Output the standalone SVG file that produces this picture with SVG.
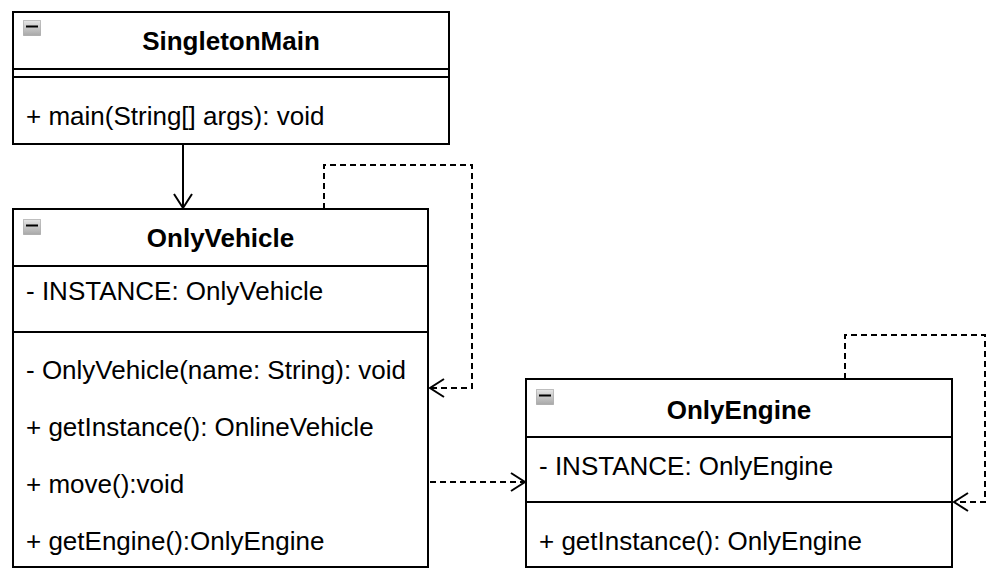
<svg xmlns="http://www.w3.org/2000/svg" width="1001" height="578" viewBox="0 0 1001 578">
<defs>
<style>
.box{fill:#fff;stroke:#000;stroke-width:2}
.div{stroke:#000;stroke-width:2}
.title{font-family:"Liberation Sans",Arial,sans-serif;font-size:26px;font-weight:bold;text-anchor:middle;fill:#000}
.txt{font-family:"Liberation Sans",Arial,sans-serif;font-size:26px;fill:#000}
.icon{fill:url(#ig);stroke:#8a8a8a;stroke-width:1;stroke-dasharray:1 1}
.minus{stroke:#000;stroke-width:2}
.dash{fill:none;stroke:#000;stroke-width:2;stroke-dasharray:6 4}
.solid{fill:none;stroke:#000;stroke-width:2}
</style>
<linearGradient id="ig" x1="0" y1="0" x2="0" y2="1">
<stop offset="0" stop-color="#e6e6e6"/>
<stop offset="1" stop-color="#a8a8a8"/>
</linearGradient>
<marker id="open" markerWidth="20" markerHeight="22" refX="15" refY="10" orient="auto" markerUnits="userSpaceOnUse">
<path d="M1,1 L15,10 L1,19" fill="none" stroke="#000" stroke-width="2"/>
</marker>
</defs>
<rect width="1001" height="578" fill="#fff"/>

<g id="connectors">
<path class="solid" d="M183,144 V208" marker-end="url(#open)"/>
<path class="dash" d="M324,209 V165 H472 V388 H430" marker-end="url(#open)"/>
<path class="dash" d="M430,482 H525" marker-end="url(#open)"/>
<path class="dash" d="M845,379 V335 H985 V502 H954" marker-end="url(#open)"/>
</g>

<g id="SingletonMain">
<rect class="box" x="13" y="12" width="436" height="132"/>
<line class="div" x1="13" y1="69" x2="449" y2="69"/>
<line class="div" x1="13" y1="77" x2="449" y2="77"/>
<rect class="icon" x="23.5" y="20.5" width="17" height="15"/>
<line class="minus" x1="26" y1="26.5" x2="38" y2="26.5"/>
<text class="title" x="231" y="50">SingletonMain</text>
<text class="txt" x="26" y="125">+ main(String[] args): void</text>
</g>

<g id="OnlyVehicle">
<rect class="box" x="13" y="209" width="415" height="358"/>
<line class="div" x1="13" y1="266" x2="428" y2="266"/>
<line class="div" x1="13" y1="332" x2="428" y2="332"/>
<rect class="icon" x="23.5" y="219.5" width="17" height="15"/>
<line class="minus" x1="26" y1="225.5" x2="38" y2="225.5"/>
<text class="title" x="220.5" y="247">OnlyVehicle</text>
<text class="txt" x="26" y="300">- INSTANCE: OnlyVehicle</text>
<text class="txt" x="26" y="379">- OnlyVehicle(name: String): void</text>
<text class="txt" x="26" y="436">+ getInstance(): OnlineVehicle</text>
<text class="txt" x="26" y="493">+ move():void</text>
<text class="txt" x="26" y="550">+ getEngine():OnlyEngine</text>
</g>

<g id="OnlyEngine">
<rect class="box" x="526" y="379" width="426" height="188"/>
<line class="div" x1="526" y1="437" x2="952" y2="437"/>
<line class="div" x1="526" y1="502" x2="952" y2="502"/>
<rect class="icon" x="536.5" y="389.5" width="17" height="15"/>
<line class="minus" x1="539" y1="395.5" x2="551" y2="395.5"/>
<text class="title" x="739" y="419">OnlyEngine</text>
<text class="txt" x="539" y="475">- INSTANCE: OnlyEngine</text>
<text class="txt" x="539" y="550">+ getInstance(): OnlyEngine</text>
</g>
</svg>
